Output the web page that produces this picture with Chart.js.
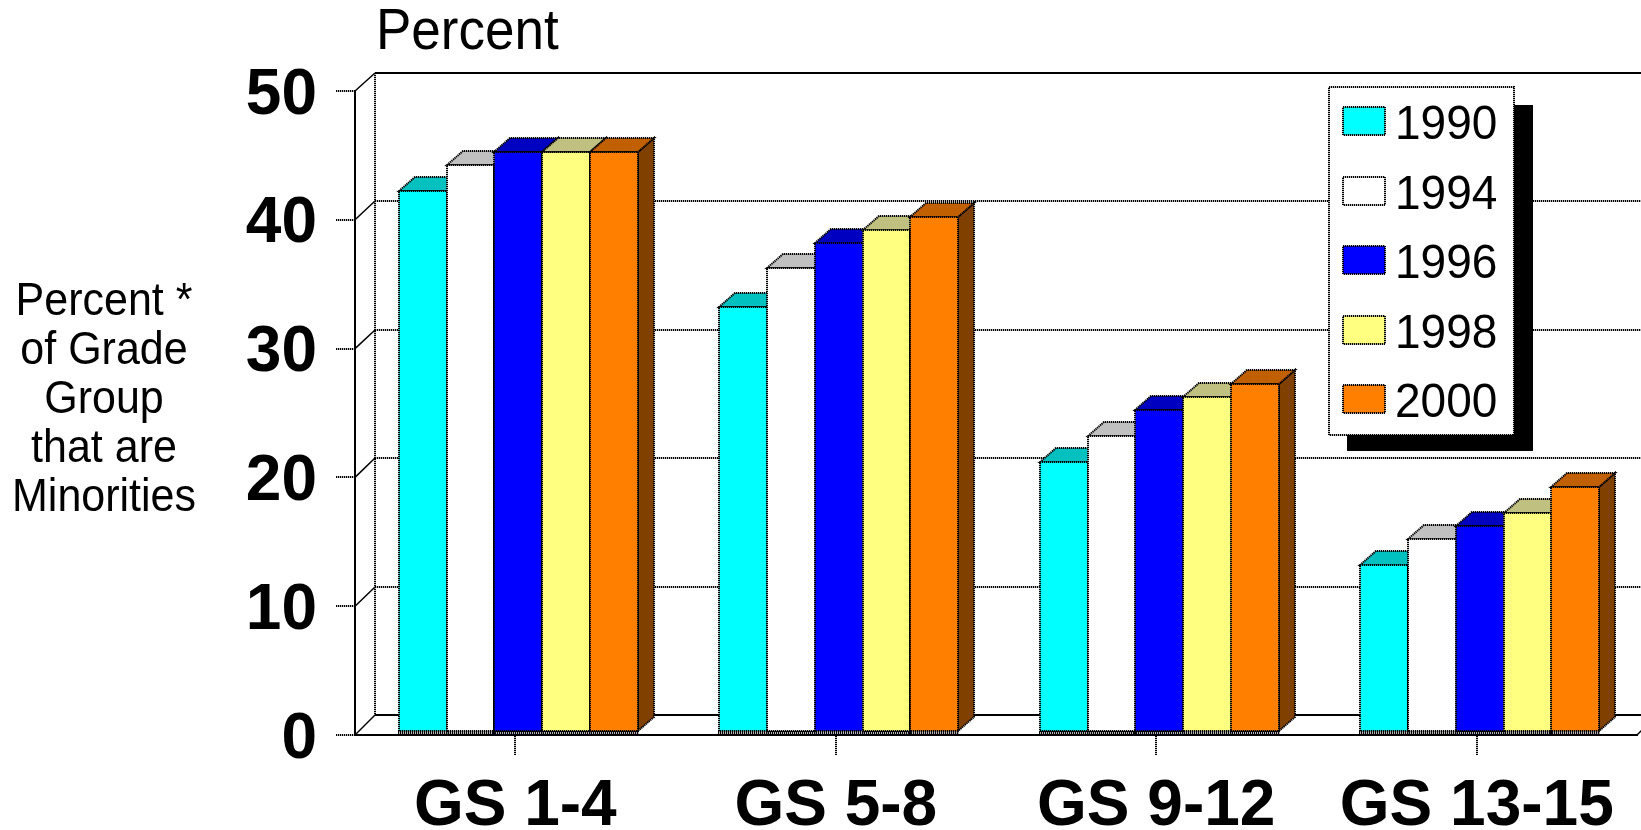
<!DOCTYPE html>
<html>
<head>
<meta charset="utf-8">
<style>html,body{margin:0;padding:0;background:#fff;overflow:hidden}canvas{display:block}</style>
<script src="https://cdn.jsdelivr.net/npm/chart.js@4"></script>
</head>
<body>
<canvas id="c" width="1641" height="830"></canvas>
<script>
const categories = ['GS 1-4', 'GS 5-8', 'GS 9-12', 'GS 13-15'];
const seriesNames = ['1990', '1994', '1996', '1998', '2000'];
const values1990 = [42, 33, 21, 13];
const values1994 = [44, 36, 23, 15];
const values1996 = [45, 38, 25, 16];
const values1998 = [45, 39, 26, 17];
const values2000 = [45, 40, 27, 19];
const allValues = [values1990, values1994, values1996, values1998, values2000];
const fronts = ['#00FFFF', '#FFFFFF', '#0000FF', '#FFFF80', '#FF8000'];
const tops = ['#00C0C0', '#C0C0C0', '#0000C0', '#C0C080', '#C06000'];
const sides = ['#008080', '#808080', '#000080', '#808040', '#804000'];
const yTitleLines = ['Percent *', 'of Grade', 'Group', 'that are', 'Minorities'];
const topLabel = 'Percent';

const FONT = '"Liberation Sans", Arial, sans-serif';
const DOT = [1.3, 0.7];

function seg(ctx, x1, y1, x2, y2, dash, w) {
  ctx.save();
  ctx.strokeStyle = '#000';
  ctx.lineWidth = w || 2;
  ctx.setLineDash(dash || []);
  ctx.beginPath(); ctx.moveTo(x1, y1); ctx.lineTo(x2, y2); ctx.stroke();
  ctx.restore();
}
function poly(ctx, pts, fill) {
  ctx.save();
  ctx.fillStyle = fill;
  ctx.strokeStyle = '#000';
  ctx.lineWidth = 2;
  ctx.setLineDash(DOT);
  ctx.beginPath();
  pts.forEach((p, i) => i ? ctx.lineTo(p[0], p[1]) : ctx.moveTo(p[0], p[1]));
  ctx.closePath(); ctx.fill(); ctx.stroke();
  ctx.restore();
}
// text in the reference is slightly taller than it is wide
function tallText(ctx, s, x, y, sy) {
  ctx.save();
  ctx.translate(x, y);
  ctx.scale(1, sy);
  ctx.fillText(s, 0, 0);
  ctx.restore();
}

const box3d = {
  id: 'box3d',
  beforeDatasetsDraw(chart) {
    const ctx = chart.ctx, a = chart.chartArea, y = chart.scales.y;
    const dx = 20;
    const depthAt = v => 20 - 2 * v / y.max;
    const L = a.left, R = a.right, B = a.bottom;
    const bx = L + dx;
    y.ticks.forEach(t => {
      const py = y.getPixelForValue(t.value);
      const by = Math.round(py - depthAt(t.value));
      seg(ctx, L, py, bx, by, [], 1.5);
      const solid = t.value === y.max || t.value === y.min;
      seg(ctx, bx, by, R + dx, by, solid ? [] : DOT, 2);
    });
    seg(ctx, bx, Math.round(y.getPixelForValue(y.max) - depthAt(y.max)), bx, Math.round(B - depthAt(0)), DOT, 2);
    seg(ctx, R, B, R + dx, B - depthAt(0), [], 1.5);

    const bdx = 16, bdy = 14, ox = 3, oy = -3;
    ctx.save();
    ctx.translate(ox, oy);
    chart.data.datasets.forEach((ds, i) => {
      const meta = chart.getDatasetMeta(i);
      meta.data.forEach(el => {
        const p = el.getProps(['x', 'y', 'base', 'width'], true);
        const l = Math.round(p.x - p.width / 2), r = Math.round(p.x + p.width / 2);
        const ty = Math.round(p.y), by = Math.round(p.base);
        poly(ctx, [[r, ty], [r + bdx, ty - bdy], [r + bdx, by - bdy], [r, by]], sides[i]);
        poly(ctx, [[l, ty], [l + bdx, ty - bdy], [r + bdx, ty - bdy], [r, ty]], tops[i]);
        el.draw(ctx);
        ctx.save();
        ctx.strokeStyle = '#000'; ctx.lineWidth = 2; ctx.setLineDash(DOT);
        ctx.strokeRect(l, ty, r - l, by - ty);
        ctx.restore();
        // the bar foot merges with the axis line below it
        seg(ctx, l - 1, by + 1.5, r + 1, by + 1.5, DOT, 3);
      });
    });
    ctx.restore();
    return false;
  },
  afterDraw(chart) {
    const ctx = chart.ctx;
    ctx.save();
    ctx.fillStyle = '#000';
    ctx.fillRect(1347, 105, 186, 346);
    ctx.fillStyle = '#fff';
    ctx.fillRect(1329, 87, 185, 348);
    ctx.strokeStyle = '#000'; ctx.lineWidth = 2; ctx.setLineDash(DOT);
    ctx.strokeRect(1329, 87, 185, 348);
    ctx.font = '46px ' + FONT;
    ctx.textAlign = 'left'; ctx.textBaseline = 'alphabetic';
    chart.data.datasets.forEach((ds, i) => {
      const sy = Math.round(107 + i * 69.6);
      ctx.fillStyle = ds.backgroundColor;
      ctx.fillRect(1343, sy, 42, 28);
      ctx.strokeRect(1343, sy, 42, 28);
      ctx.fillStyle = '#000';
      tallText(ctx, ds.label, 1395, sy + 32, 1.05);
    });
    ctx.fillStyle = '#000';
    ctx.font = '43px ' + FONT;
    ctx.textAlign = 'center';
    yTitleLines.forEach((s, i) => tallText(ctx, s, 104, 315 + i * 49, 1.07));
    ctx.font = '53px ' + FONT;
    ctx.textAlign = 'left';
    tallText(ctx, topLabel, 376, 49, 1.09);
    ctx.restore();
  }
};

new Chart(document.getElementById('c'), {
  type: 'bar',
  data: {
    labels: categories,
    datasets: seriesNames.map((name, i) => ({
      label: name,
      data: allValues[i],
      backgroundColor: fronts[i],
      borderWidth: 0,
      barPercentage: 1,
      categoryPercentage: 0.745
    }))
  },
  options: {
    responsive: false,
    animation: false,
    devicePixelRatio: 1,
    layout: { padding: { top: 91, right: 4, left: 0, bottom: 0 } },
    plugins: { legend: { display: false }, title: { display: false }, tooltip: { enabled: false } },
    scales: {
      x: {
        afterFit(s) { s.height = 95; },
        grid: { offset: false, drawOnChartArea: false, drawTicks: true, tickLength: 20, color: '#000', lineWidth: 2, tickBorderDash: DOT },
        border: { display: true, color: '#000', width: 2, dash: DOT },
        ticks: { color: '#000', padding: 14, autoSkip: false, maxRotation: 0, font: { family: FONT, size: 64, weight: 'bold' } }
      },
      y: {
        min: 0, max: 50,
        afterFit(s) { s.width = 355; },
        grid: { drawOnChartArea: false, drawTicks: true, tickLength: 19, color: '#000', lineWidth: 2, tickBorderDash: DOT },
        border: { display: true, color: '#000', width: 2 },
        ticks: { stepSize: 10, color: '#000', padding: 19, labelOffset: 5, font: { family: FONT, size: 64, weight: 'bold' } }
      }
    }
  },
  plugins: [box3d]
});
</script>
</body>
</html>
